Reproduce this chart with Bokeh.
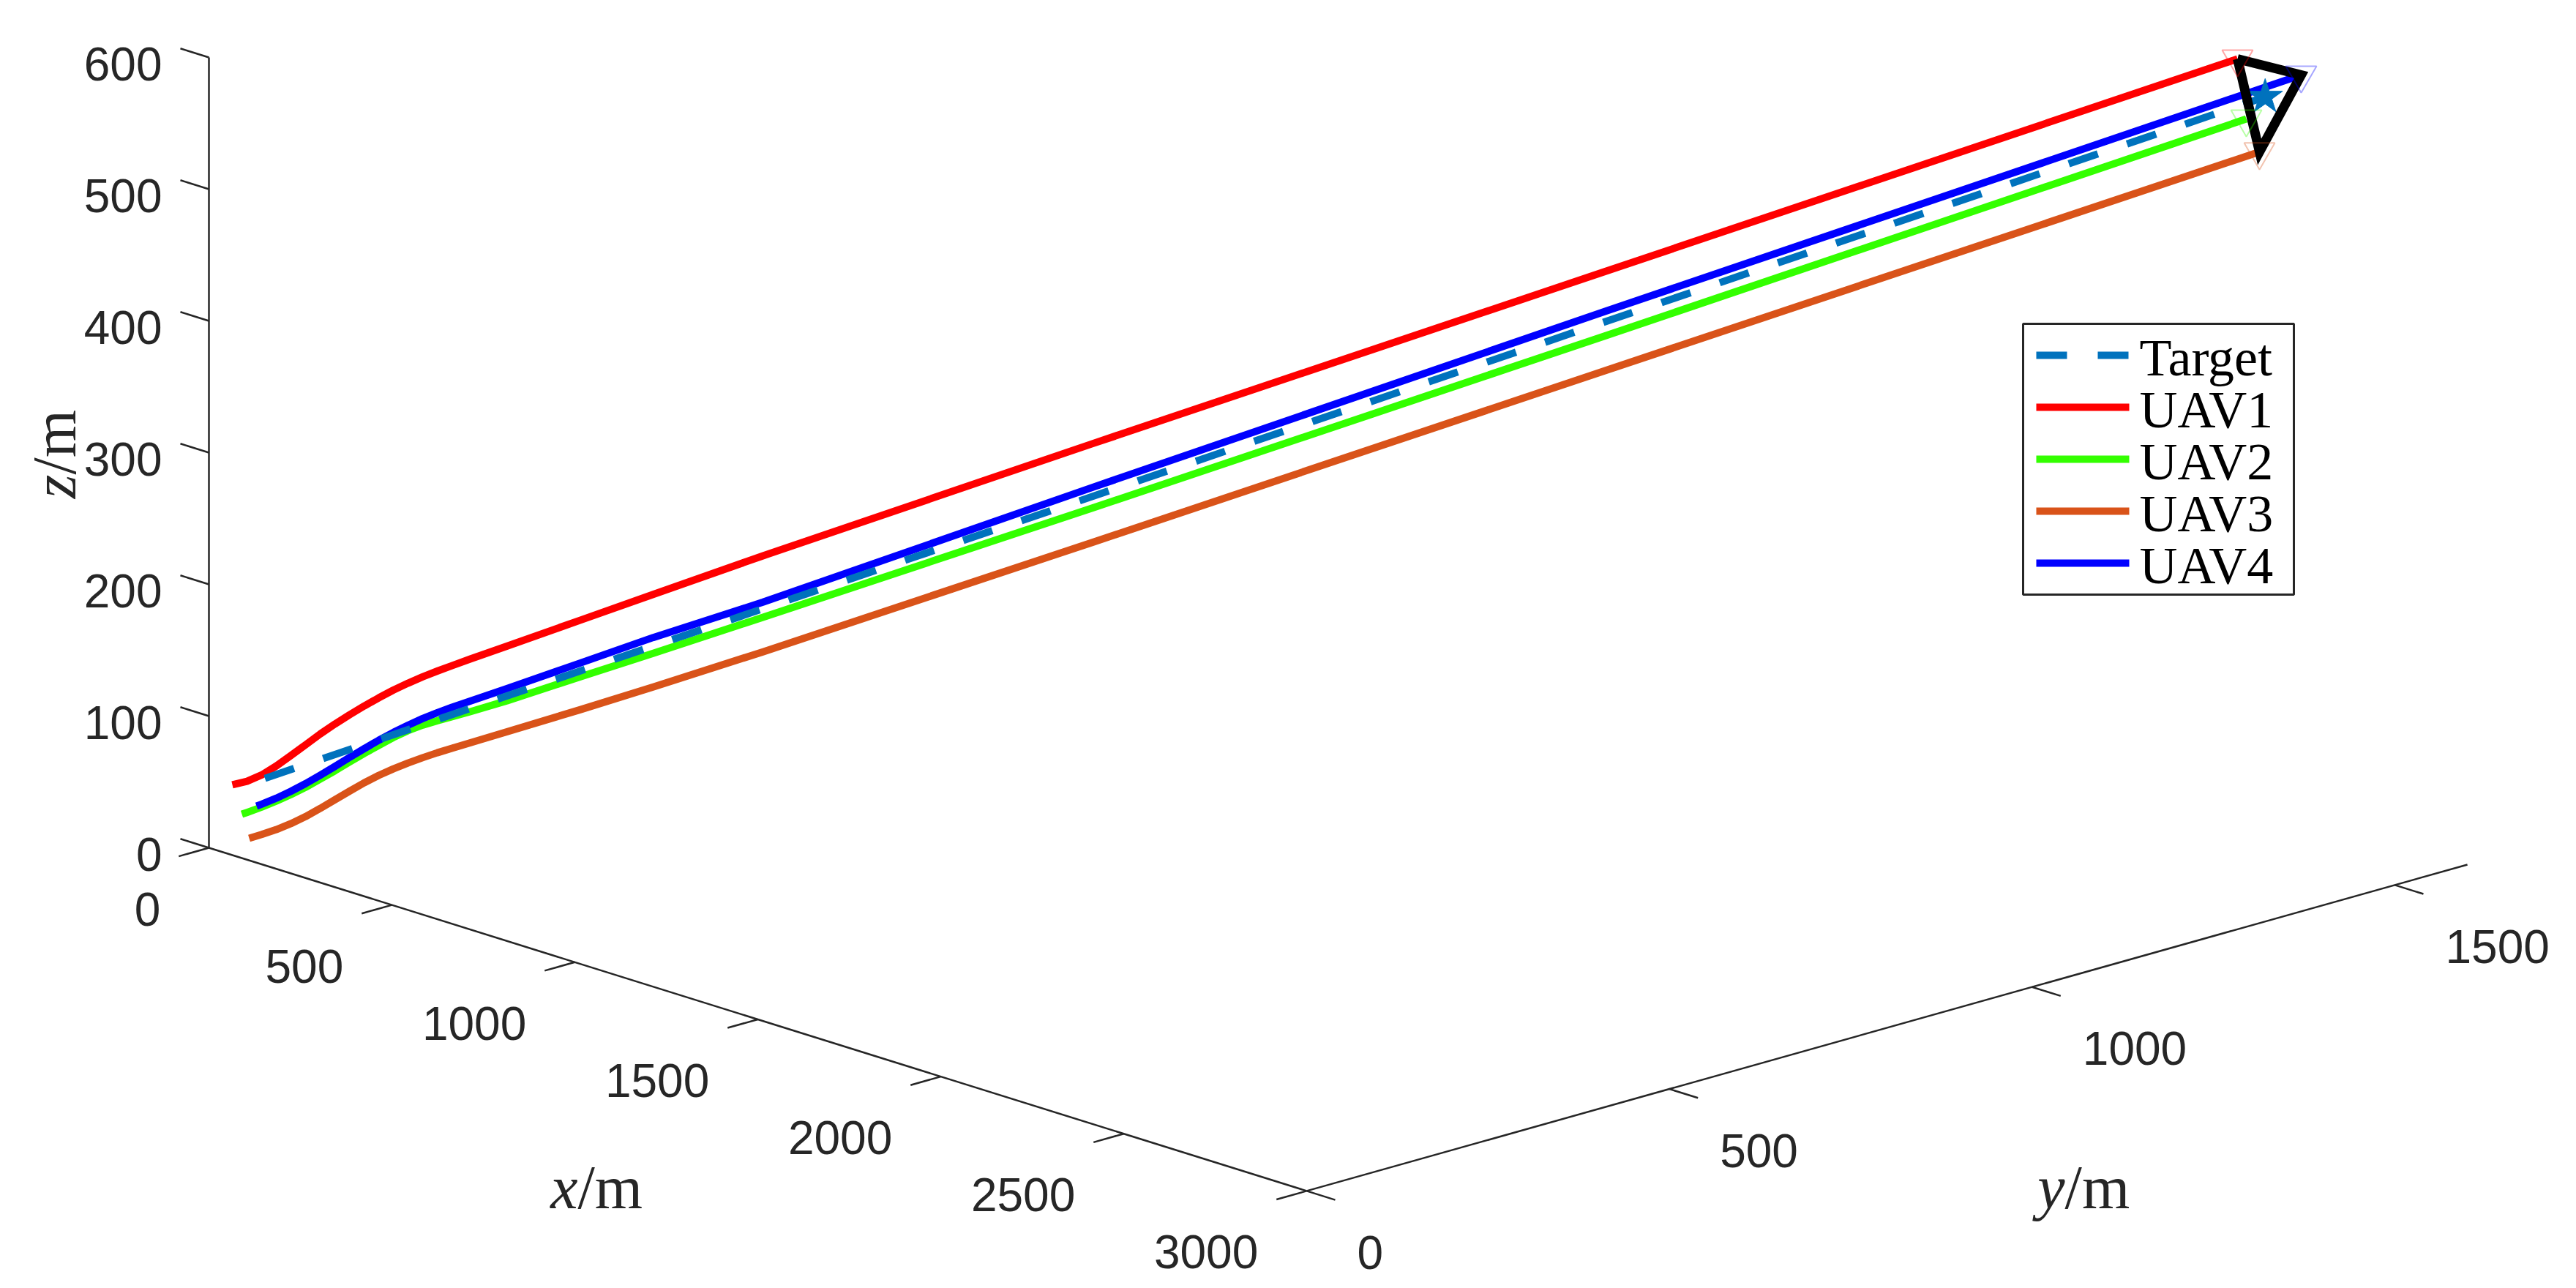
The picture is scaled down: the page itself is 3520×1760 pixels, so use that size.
import numpy as np
from bokeh.plotting import figure
from bokeh.models import Range1d
from bokeh.embed import file_html
from bokeh.resources import INLINE
from bokeh.core.properties import value

# ---------------- data (3-D positions, metres) ----------------
target_x = [50, 2600]
target_y = [52, 1523]
target_z = [49, 560]

uav1_x = [8.5, 27.1, 45.8, 64.5, 83.1, 101.8, 120.4, 139.1, 157.8, 176.4, 195.1, 213.7, 232.4,
          251.0, 269.7, 288.4, 311.7, 358.3, 451.6, 544.9, 684.9, 1104.7, 1757.7, 2564.7]
uav1_y = [28.0, 38.8, 49.6, 60.4, 71.1, 81.9, 92.6, 103.4, 114.2, 124.9, 135.7, 146.4, 157.2,
          167.9, 178.7, 189.5, 203.0, 229.9, 283.7, 337.5, 418.3, 660.4, 1037.2, 1502.7]
uav1_z = [44.2, 46.8, 51.6, 58.4, 66.3, 74.4, 82.5, 90.0, 97.0, 103.6, 109.8, 115.6, 120.8,
          125.6, 129.9, 134.0, 139.0, 148.6, 168.0, 187.4, 216.4, 300.4, 429.4, 588.9]

uav2_x = [20.6, 27.1, 45.8, 64.5, 83.1, 101.8, 120.4, 139.1, 157.8, 176.4, 195.1, 213.7, 232.4,
          251.0, 269.7, 288.4, 311.7, 358.3, 451.6, 544.9, 684.9, 1104.7, 1757.7, 2575.9]
uav2_y = [35.0, 38.8, 49.6, 60.4, 71.1, 81.9, 92.6, 103.4, 114.2, 124.9, 135.7, 146.4, 157.2,
          167.9, 178.7, 189.5, 203.0, 229.9, 283.7, 337.5, 418.3, 660.4, 1037.2, 1509.2]
uav2_z = [21.9, 23.2, 27.2, 31.7, 36.6, 42.1, 48.2, 54.5, 61.2, 67.6, 73.7, 79.6, 84.8,
          88.9, 92.2, 95.2, 99.0, 107.1, 125.0, 142.7, 169.7, 251.6, 380.5, 543.3]

uav3_x = [29.9, 45.8, 64.5, 83.1, 101.8, 120.4, 139.1, 157.8, 176.4, 195.1, 213.7, 232.4,
          251.0, 269.7, 288.4, 311.7, 358.3, 451.6, 544.9, 684.9, 1104.7, 1757.7, 2592.7]
uav3_y = [40.4, 49.6, 60.4, 71.1, 81.9, 92.6, 103.4, 114.2, 124.9, 135.7, 146.4, 157.2,
          167.9, 178.7, 189.5, 203.0, 229.9, 283.7, 337.5, 418.3, 660.4, 1037.2, 1518.9]
uav3_z = [3.6, 6.4, 10.1, 14.6, 19.9, 26.0, 32.5, 39.0, 45.3, 50.9, 55.8, 60.2,
          64.2, 67.9, 71.3, 75.4, 83.6, 100.1, 117.1, 143.5, 225.5, 354.1, 518.3]

uav4_x = [39.3, 45.8, 64.5, 83.1, 101.8, 120.4, 139.1, 157.8, 176.4, 195.1, 213.7, 232.4,
          251.0, 269.7, 288.4, 311.7, 358.3, 451.6, 544.9, 684.9, 1104.7, 1757.7, 2645.9]
uav4_y = [45.8, 49.6, 60.4, 71.1, 81.9, 92.6, 103.4, 114.2, 124.9, 135.7, 146.4, 157.2,
          167.9, 178.7, 189.5, 203.0, 229.9, 283.7, 337.5, 418.3, 660.4, 1037.2, 1549.5]
uav4_z = [28.0, 29.4, 33.9, 39.1, 44.9, 51.2, 57.8, 64.6, 71.2, 77.6, 83.5, 88.9,
          93.9, 98.3, 102.4, 107.0, 116.3, 135.5, 154.7, 181.2, 267.2, 399.1, 576.5]

series_names = ["Target", "UAV1", "UAV2", "UAV3", "UAV4"]

x_lim = [0, 3000]
y_lim = [0, 1600]
z_lim = [0, 600]
x_ticks = [0, 500, 1000, 1500, 2000, 2500, 3000]
y_ticks = [0, 500, 1000, 1500]
z_ticks = [0, 100, 200, 300, 400, 500, 600]

# ---------------- view (orthographic projection, styles) ----------------
W, H = 3520, 1760
ORIGIN = (293.0, 1166.0)
EX = (0.5, 0.1563)
EY = (0.9913, -0.2787)
EZ = (0.0, -1.8)


def proj(x, y, z):
    x = np.asarray(x, float)
    y = np.asarray(y, float)
    z = np.asarray(z, float)
    sx = ORIGIN[0] + x * EX[0] + y * EY[0] + z * EZ[0]
    sy = ORIGIN[1] + x * EX[1] + y * EY[1] + z * EZ[1]
    return sx, H - sy


AX_COLOR = "#262626"
TICK_FONT = value("Liberation Sans")
SERIF = value("Liberation Serif")

p = figure(width=3504, height=1744, x_range=Range1d(8, 3512), y_range=Range1d(8, 1752),
           min_border=0, toolbar_location=None, output_backend="svg",
           x_axis_type=None, y_axis_type=None)
p.grid.visible = False
p.outline_line_color = None
p.background_fill_color = "white"
p.border_fill_color = "white"

# ---------------- axes ----------------
ax_x0, ax_y0 = proj([x_lim[0], x_lim[0], x_lim[1]], [y_lim[0]] * 3, [z_lim[0]] * 3)
ax_x1, ax_y1 = proj([x_lim[0], x_lim[1], x_lim[1]], [y_lim[0], y_lim[0], y_lim[1]],
                    [z_lim[1], z_lim[0], z_lim[0]])
p.segment(x0=ax_x0, y0=ax_y0, x1=ax_x1, y1=ax_y1, line_color=AX_COLOR, line_width=2.5)

tl = 0.026
xs = x_lim[1] - x_lim[0]
ys = y_lim[1] - y_lim[0]
zt = np.array(z_ticks, float)
zx0, zy0 = proj(np.full_like(zt, x_lim[0]), np.full_like(zt, y_lim[0]), zt)
zx1, zy1 = proj(np.full_like(zt, x_lim[0] - tl * xs), np.full_like(zt, y_lim[0]), zt)
xt = np.array(x_ticks, float)
xx0, xy0 = proj(xt, np.full_like(xt, y_lim[0]), np.full_like(xt, z_lim[0]))
xx1, xy1 = proj(xt, np.full_like(xt, y_lim[0] - tl * ys), np.full_like(xt, z_lim[0]))
yt = np.array(y_ticks, float)
yx0, yy0 = proj(np.full_like(yt, x_lim[1]), yt, np.full_like(yt, z_lim[0]))
yx1, yy1 = proj(np.full_like(yt, x_lim[1] + tl * xs), yt, np.full_like(yt, z_lim[0]))

p.segment(x0=np.concatenate([zx0, xx0, yx0]), y0=np.concatenate([zy0, xy0, yy0]),
          x1=np.concatenate([zx1, xx1, yx1]), y1=np.concatenate([zy1, xy1, yy1]),
          line_color=AX_COLOR, line_width=2.5)

tick_kw = dict(text_font=TICK_FONT, text_font_size="64px", text_color=AX_COLOR,
               text_baseline="alphabetic")
p.text(x=zx1, y=zy1, text=[str(v) for v in z_ticks], text_align="right",
       x_offset=-25, y_offset=21, **tick_kw)
p.text(x=xx1, y=xy1, text=[str(v) for v in x_ticks], text_align="right",
       x_offset=-25, y_offset=72, **tick_kw)
p.text(x=yx1, y=yy1, text=[str(v) for v in y_ticks], text_align="left",
       x_offset=30, y_offset=72, **tick_kw)

# axis labels (italic variable + upright unit)
lab_kw = dict(text_font=SERIF, text_font_size="84px", text_color=AX_COLOR,
              text_baseline="alphabetic")
lx, ly = proj([(x_lim[0] + x_lim[1]) / 2], [y_lim[0]], [z_lim[0]])
p.text(x=lx, y=ly, text=["x"], text_align="right", text_font_style="italic",
       x_offset=-246, y_offset=230, **lab_kw)
p.text(x=lx, y=ly, text=["/m"], text_align="left", x_offset=-246, y_offset=230, **lab_kw)
lx, ly = proj([x_lim[1]], [(y_lim[0] + y_lim[1]) / 2], [z_lim[0]])
p.text(x=lx, y=ly, text=["y"], text_align="right", text_font_style="italic",
       x_offset=243, y_offset=218, **lab_kw)
p.text(x=lx, y=ly, text=["/m"], text_align="left", x_offset=243, y_offset=218, **lab_kw)
lx, ly = proj([x_lim[0]], [y_lim[0]], [(z_lim[0] + z_lim[1]) / 2])
p.text(x=lx, y=ly, text=["z"], text_align="right", text_font_style="italic",
       angle=np.pi / 2, x_offset=-211, y_offset=30, **lab_kw)
p.text(x=lx, y=ly, text=["/m"], text_align="left", angle=np.pi / 2,
       x_offset=-211, y_offset=30, **lab_kw)

# ---------------- trajectories ----------------
colors = {"Target": "#0072BD", "UAV1": "#FF0000", "UAV2": "#33FF00",
          "UAV3": "#D95319", "UAV4": "#0000FF"}
dashes = {"Target": "42 42", "UAV1": "solid", "UAV2": "solid", "UAV3": "solid", "UAV4": "solid"}
paths = {"Target": (target_x, target_y, target_z), "UAV1": (uav1_x, uav1_y, uav1_z),
         "UAV2": (uav2_x, uav2_y, uav2_z), "UAV3": (uav3_x, uav3_y, uav3_z),
         "UAV4": (uav4_x, uav4_y, uav4_z)}

for name in ["UAV1", "UAV2", "UAV3", "UAV4", "Target"]:
    sx, sy = proj(*paths[name])
    p.line(x=sx, y=sy, line_color=colors[name], line_width=10, line_dash=dashes[name],
           line_join="round")

# target end marker
tx, ty = proj([target_x[-1]], [target_y[-1]], [target_z[-1]])
p.scatter(x=tx, y=ty, marker="star", size=50, fill_color="#0072BD", line_color="#0072BD")

# formation triangle (UAV1 - UAV4 - UAV3)
fx, fy = proj([uav1_x[-1], uav4_x[-1], uav3_x[-1], uav1_x[-1]],
              [uav1_y[-1], uav4_y[-1], uav3_y[-1], uav1_y[-1]],
              [uav1_z[-1], uav4_z[-1], uav3_z[-1], uav1_z[-1]])
p.line(x=fx, y=fy, line_color="black", line_width=13, line_join="miter")

ends = ["UAV1", "UAV2", "UAV3", "UAV4"]
ex_, ey_ = proj([paths[n][0][-1] for n in ends], [paths[n][1][-1] for n in ends],
                [paths[n][2][-1] for n in ends])
p.scatter(x=ex_, y=ey_, marker="inverted_triangle", size=42, fill_color=None,
          line_color=[colors[n] for n in ends], line_alpha=0.35, line_width=2)

# ---------------- legend (drawn in page pixels) ----------------
LEG_LEFT, LEG_TOP, LEG_RIGHT, LEG_BOTTOM = 2772, 450, 3142, 820
ROW0, ROW_STEP = 493, 71
SAMPLE_L, SAMPLE_R, TEXT_X = 2790, 2917, 2931
p.quad(left=[LEG_LEFT], right=[LEG_RIGHT], top=[H - LEG_TOP], bottom=[H - LEG_BOTTOM],
       fill_color="white", line_color=AX_COLOR, line_width=3)
for i, name in enumerate(series_names):
    yy = H - (ROW0 + i * ROW_STEP)
    p.line(x=[SAMPLE_L, SAMPLE_R], y=[yy, yy], line_color=colors[name], line_width=10,
           line_dash=dashes[name])
    p.text(x=[TEXT_X], y=[yy], text=[name], text_align="left", text_baseline="middle",
           y_offset=3, text_font=SERIF, text_font_size="72px", text_color="black")

open("out.html", "w").write(file_html(p, INLINE))
